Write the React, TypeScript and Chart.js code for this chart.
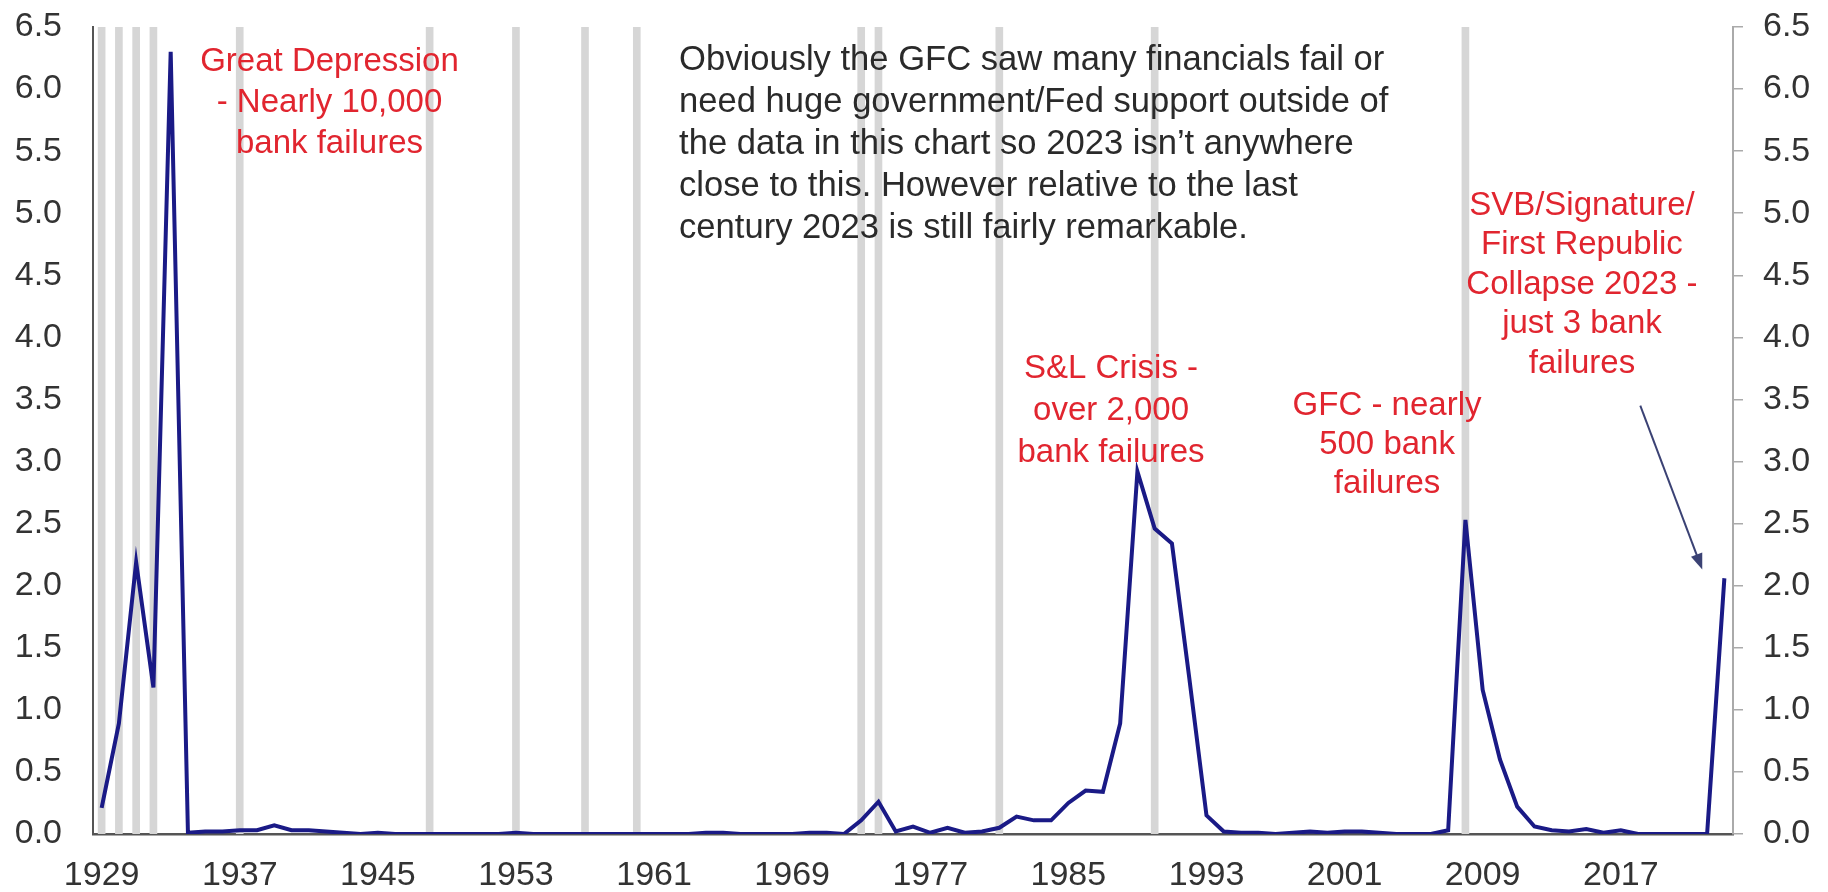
import React, { useEffect, useRef } from "react";
import { Chart, registerables } from "chart.js";

Chart.register(...registerables);

// ---------- data ----------
const FIRST_YEAR = 1929;
// Failed bank deposits (% of total deposits), 1929 .. 2023
const failedDeposits = [
  0.21,
  0.89, 2.19, 1.18, 6.3, 0.01, 0.02, 0.02, 0.03, 0.03, 0.07,
  0.03, 0.03, 0.02, 0.01, 0.0, 0.01, 0.0, 0.0, 0.0, 0.0,
  0.0, 0.0, 0.0, 0.01, 0.0, 0.0, 0.0, 0.0, 0.0, 0.0,
  0.0, 0.0, 0.0, 0.0, 0.01, 0.01, 0.0, 0.0, 0.0, 0.0,
  0.01, 0.01, 0.0, 0.11, 0.26, 0.02, 0.06, 0.01, 0.05, 0.01,
  0.02, 0.05, 0.14, 0.11, 0.11, 0.25, 0.35, 0.34, 0.89, 2.92,
  2.46, 2.34, 1.26, 0.15, 0.02, 0.01, 0.01, 0.0, 0.01, 0.02,
  0.01, 0.02, 0.02, 0.01, 0.0, 0.0, 0.0, 0.03, 2.53, 1.16,
  0.6, 0.22, 0.06, 0.03, 0.02, 0.04, 0.01, 0.03, 0.0, 0.0,
  0.0, 0.0, 0.0, 2.06,
];
const years = failedDeposits.map((_, i) => FIRST_YEAR + i);

// Recession years (grey bars)
const recessionYears = [1929, 1930, 1931, 1932, 1937, 1948, 1953, 1957, 1960, 1973, 1974, 1981, 1990, 2008];
const recessionLevel = 6.5;

const xTickYears = [1929, 1937, 1945, 1953, 1961, 1969, 1977, 1985, 1993, 2001, 2009, 2017];
const yTickValues = [0, 0.5, 1, 1.5, 2, 2.5, 3, 3.5, 4, 4.5, 5, 5.5, 6, 6.5];

const noteGreatDepression = ["Great Depression", "- Nearly 10,000", "bank failures"];
const noteSL = ["S&L Crisis -", "over 2,000", "bank failures"];
const noteGFC = ["GFC - nearly", "500 bank", "failures"];
const noteSVB = ["SVB/Signature/", "First Republic", "Collapse 2023 -", "just 3 bank", "failures"];
const noteMain = [
  "Obviously the GFC saw many financials fail or",
  "need huge government/Fed support outside of",
  "the data in this chart so 2023 isn\u2019t anywhere",
  "close to this. However relative to the last",
  "century 2023 is still fairly remarkable.",
];

// ---------- styles ----------
const FONT = '"Liberation Sans", Arial, Helvetica, sans-serif';
const RED = "#e1252f";
const TEXT = "#2a2a2a";
const LINE = "#1a1a86";
const BAR = "#d6d6d6";

const notes = [
  { lines: noteGreatDepression, x: 1942.2, y: 6.22, align: "center", color: RED, size: 33, lh: 41 },
  { lines: noteMain, x: 1962.45, y: 6.23, align: "left", color: TEXT, size: 34.6, lh: 42 },
  { lines: noteSL, x: 1987.47, y: 3.75, align: "center", color: RED, size: 33, lh: 42 },
  { lines: noteGFC, x: 2003.46, y: 3.45, align: "center", color: RED, size: 33, lh: 39 },
  { lines: noteSVB, x: 2014.75, y: 5.06, align: "center", color: RED, size: 33, lh: 39.5 },
];
const arrow = { from: { x: 2018.13, y: 3.45 }, to: { x: 2021.72, y: 2.13 }, color: "#3b4274" };

const annotationPlugin = {
  id: "notes",
  afterDatasetsDraw(chart: any) {
    const { ctx, scales } = chart;
    const xs = scales.x;
    const ys = scales.y;
    ctx.save();
    ctx.textBaseline = "middle";
    for (const n of notes) {
      ctx.font = `${n.size}px ${FONT}`;
      ctx.fillStyle = n.color;
      ctx.textAlign = n.align;
      const px = xs.getPixelForValue(n.x);
      const py = ys.getPixelForValue(n.y);
      n.lines.forEach((t: string, i: number) => ctx.fillText(t, px, py + i * n.lh));
    }
    // arrow
    const x1 = xs.getPixelForValue(arrow.from.x);
    const y1 = ys.getPixelForValue(arrow.from.y);
    const x2 = xs.getPixelForValue(arrow.to.x);
    const y2 = ys.getPixelForValue(arrow.to.y);
    const ang = Math.atan2(y2 - y1, x2 - x1);
    const headLen = 16;
    const headW = 6;
    ctx.strokeStyle = arrow.color;
    ctx.fillStyle = arrow.color;
    ctx.lineWidth = 2;
    ctx.beginPath();
    ctx.moveTo(x1, y1);
    ctx.lineTo(x2 - Math.cos(ang) * headLen * 0.8, y2 - Math.sin(ang) * headLen * 0.8);
    ctx.stroke();
    ctx.beginPath();
    ctx.moveTo(x2, y2);
    ctx.lineTo(
      x2 - Math.cos(ang) * headLen - Math.sin(ang) * headW,
      y2 - Math.sin(ang) * headLen + Math.cos(ang) * headW
    );
    ctx.lineTo(
      x2 - Math.cos(ang) * headLen + Math.sin(ang) * headW,
      y2 - Math.sin(ang) * headLen - Math.cos(ang) * headW
    );
    ctx.closePath();
    ctx.fill();
    ctx.restore();
  },
};

export default function App() {
  const ref = useRef<HTMLCanvasElement | null>(null);

  useEffect(() => {
    if (!ref.current) return;
    const tickFont = { family: FONT, size: 34 };
    const yAxisCommon = {
      type: "linear",
      min: 0,
      max: 6.5,
      afterBuildTicks: (s: any) => {
        s.ticks = yTickValues.map((v) => ({ value: v }));
      },
    };
    const chart = new Chart(ref.current, {
      type: "bar",
      data: {
        datasets: [
          {
            type: "line",
            label: "Failed deposits",
            data: years.map((yr, i) => ({ x: yr, y: failedDeposits[i] })),
            borderColor: LINE,
            borderWidth: 4,
            pointRadius: 0,
            tension: 0,
            fill: false,
            order: 1,
            yAxisID: "y",
          } as any,
          {
            type: "bar",
            label: "Recession",
            data: recessionYears.map((yr) => ({ x: yr, y: recessionLevel })),
            backgroundColor: BAR,
            barThickness: 7,
            order: 2,
            yAxisID: "y",
          } as any,
        ],
      },
      options: {
        responsive: false,
        animation: false,
        events: [],
        layout: { padding: { top: 27, left: 0, right: 0, bottom: 0 } },
        plugins: {
          legend: { display: false },
          tooltip: { enabled: false },
          title: { display: false },
        },
        scales: {
          x: {
            type: "linear",
            min: 1928.5,
            max: 2023.5,
            offset: false,
            grid: { display: false, drawTicks: false },
            border: { display: true, color: "#555555", width: 2.5 },
            afterBuildTicks: (s: any) => {
              s.ticks = xTickYears.map((v) => ({ value: v }));
            },
            afterFit: (s: any) => {
              s.height = 58;
              s.paddingLeft = 0;
              s.paddingRight = 0;
            },
            ticks: {
              autoSkip: false,
              maxRotation: 0,
              minRotation: 0,
              padding: 21,
              color: "#333333",
              font: tickFont,
              callback: (v: any) => String(v),
            },
          },
          y: {
            ...yAxisCommon,
            position: "left",
            grid: { display: false, drawTicks: false },
            border: { display: true, color: "#555555", width: 2 },
            afterFit: (s: any) => {
              s.width = 93;
              s.paddingTop = 0;
              s.paddingBottom = 0;
            },
            ticks: {
              padding: 31,
              color: "#333333",
              font: tickFont,
              callback: (v: any) => Number(v).toFixed(1),
            },
          } as any,
          y2: {
            ...yAxisCommon,
            position: "right",
            grid: {
              display: true,
              drawOnChartArea: false,
              drawTicks: true,
              tickLength: 10,
              color: "#aaaaaa",
              lineWidth: 1.5,
            },
            border: { display: true, color: "#aaaaaa", width: 2 },
            afterFit: (s: any) => {
              s.width = 95;
              s.paddingTop = 0;
              s.paddingBottom = 0;
            },
            ticks: {
              padding: 20,
              color: "#333333",
              font: tickFont,
              callback: (v: any) => Number(v).toFixed(1),
            },
          } as any,
        },
      } as any,
      plugins: [annotationPlugin],
    });
    return () => chart.destroy();
  }, []);

  return (
    <div style={{ position: "absolute", left: 0, top: 0, width: 1828, height: 892, background: "#ffffff" }}>
      <canvas ref={ref} width={1828} height={892} style={{ display: "block", width: 1828, height: 892 }} />
    </div>
  );
}
